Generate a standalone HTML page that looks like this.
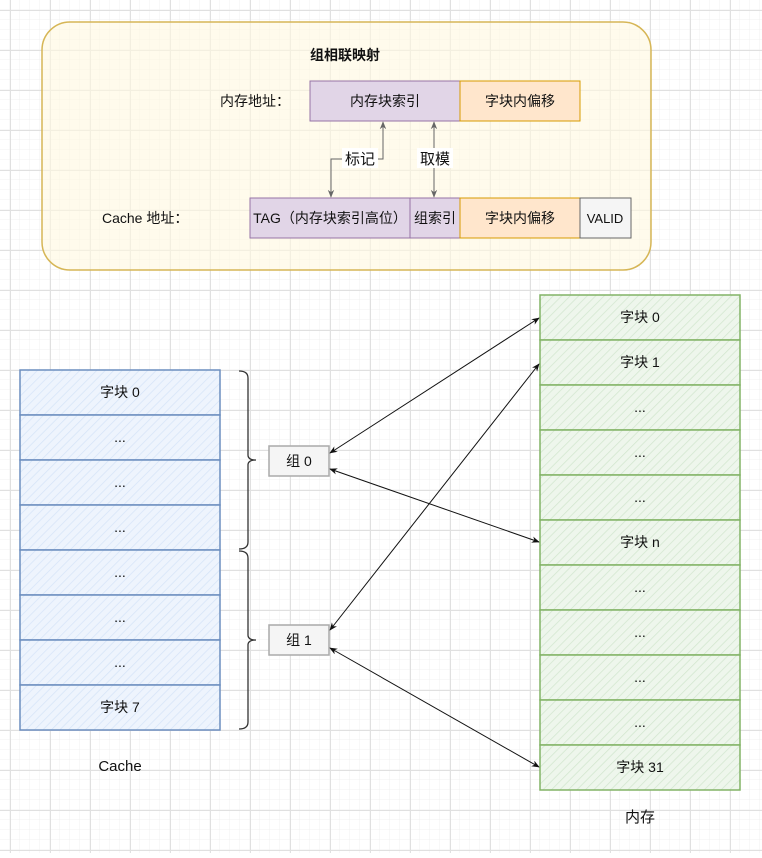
<!DOCTYPE html>
<html><head><meta charset="utf-8"><style>
html,body{margin:0;padding:0;background:#fff}
text{font-family:"Liberation Sans","Noto Sans CJK SC",sans-serif;font-size:14px;fill:#111}
</style></head><body>
<svg width="762" height="853" viewBox="0 0 762 853" xmlns="http://www.w3.org/2000/svg">
<defs>
<pattern id="g" width="10" height="10" patternUnits="userSpaceOnUse"><path d="M10 0V10M0 10H10" stroke="#f0f0f0" stroke-width="1" fill="none"/></pattern>
<pattern id="G" x="10" y="10" width="40" height="40" patternUnits="userSpaceOnUse"><rect width="40" height="40" fill="url(#g)"/><path d="M0.5 0V40M0 0.5H40" stroke="#e0e0e0" fill="none"/></pattern>
<pattern id="hb" width="6" height="6" patternUnits="userSpaceOnUse" patternTransform="rotate(45)"><rect width="6" height="6" fill="#eef4fd"/><path d="M0 0V6" stroke="#d6e4f8" stroke-width="1.5"/></pattern>
<pattern id="hg" width="6" height="6" patternUnits="userSpaceOnUse" patternTransform="rotate(45)"><rect width="6" height="6" fill="#eef6ec"/><path d="M0 0V6" stroke="#d2e6cf" stroke-width="1.5"/></pattern>
<marker id="a" viewBox="0 0 10 10" refX="9" refY="5" markerWidth="8" markerHeight="8" orient="auto-start-reverse"><path d="M0 1L10 5L0 9L3 5Z" fill="#111"/></marker>
<marker id="ag" viewBox="0 0 10 10" refX="9" refY="5" markerWidth="8" markerHeight="8" orient="auto-start-reverse"><path d="M0 1L10 5L0 9L3 5Z" fill="#666"/></marker>
</defs>
<rect width="762" height="853" fill="url(#G)"/>
<rect x="42" y="22" width="609" height="248" rx="28" fill="#fff8e0" fill-opacity="0.6" stroke="#d6b656" stroke-width="1.5"/>
<text x="345" y="60" text-anchor="middle" style="font-weight:bold;font-size:14px">组相联映射</text>
<text x="290" y="106" text-anchor="end">内存地址：</text>
<rect x="310" y="81" width="150" height="40" fill="#e1d5e7" stroke="#9673a6"/>
<text x="385" y="106" text-anchor="middle">内存块索引</text>
<rect x="460" y="81" width="120" height="40" fill="#ffe6cc" stroke="#d79b00"/>
<text x="520" y="106" text-anchor="middle">字块内偏移</text>
<text x="102" y="223">Cache 地址：</text>
<rect x="250" y="198" width="160" height="40" fill="#e1d5e7" stroke="#9673a6"/>
<text x="330" y="223" text-anchor="middle">TAG（内存块索引高位）</text>
<rect x="410" y="198" width="50" height="40" fill="#e1d5e7" stroke="#9673a6"/>
<text x="435" y="223" text-anchor="middle">组索引</text>
<rect x="460" y="198" width="120" height="40" fill="#ffe6cc" stroke="#d79b00"/>
<text x="520" y="223" text-anchor="middle">字块内偏移</text>
<rect x="580" y="198" width="51" height="40" fill="#f5f5f5" stroke="#666"/>
<text x="605" y="223" text-anchor="middle" style="font-size:13px">VALID</text>
<path d="M331 197V159H383V122" fill="none" stroke="#666" marker-start="url(#ag)" marker-end="url(#ag)"/>
<rect x="342" y="148" width="36" height="20" fill="#fff"/>
<text x="360" y="164" text-anchor="middle" style="font-size:15px">标记</text>
<path d="M434 197V122" fill="none" stroke="#666" marker-start="url(#ag)" marker-end="url(#ag)"/>
<rect x="417" y="148" width="36" height="20" fill="#fff"/>
<text x="435" y="164" text-anchor="middle" style="font-size:15px">取模</text>
<g stroke="#6c8ebf" stroke-width="1.5" fill="url(#hb)">
<rect x="20" y="370" width="200" height="45"/><rect x="20" y="415" width="200" height="45"/><rect x="20" y="460" width="200" height="45"/><rect x="20" y="505" width="200" height="45"/>
<rect x="20" y="550" width="200" height="45"/><rect x="20" y="595" width="200" height="45"/><rect x="20" y="640" width="200" height="45"/><rect x="20" y="685" width="200" height="45"/>
</g>
<g text-anchor="middle">
<text x="120" y="397">字块 0</text><text x="120" y="442">...</text><text x="120" y="487">...</text><text x="120" y="532">...</text>
<text x="120" y="577">...</text><text x="120" y="622">...</text><text x="120" y="667">...</text><text x="120" y="712">字块 7</text>
<text x="120" y="771" style="font-size:15px">Cache</text>
<text x="640" y="822" style="font-size:15px">内存</text>
</g>
<path d="M239 371Q248 371 248 378V455Q248 460 256 460Q248 460 248 465V542Q248 549 239 549M239 551Q248 551 248 558V635Q248 640 256 640Q248 640 248 645V722Q248 729 239 729" fill="none" stroke="#333" stroke-width="1.3"/>
<rect x="269" y="446" width="60" height="30" fill="#f5f5f5" stroke="#aaa" stroke-width="1.5"/>
<text x="299" y="466" text-anchor="middle">组 0</text>
<rect x="269" y="625" width="60" height="30" fill="#f5f5f5" stroke="#aaa" stroke-width="1.5"/>
<text x="299" y="645" text-anchor="middle">组 1</text>
<g stroke="#82b366" stroke-width="1.5" fill="url(#hg)">
<rect x="540" y="295" width="200" height="45"/><rect x="540" y="340" width="200" height="45"/><rect x="540" y="385" width="200" height="45"/><rect x="540" y="430" width="200" height="45"/>
<rect x="540" y="475" width="200" height="45"/><rect x="540" y="520" width="200" height="45"/><rect x="540" y="565" width="200" height="45"/><rect x="540" y="610" width="200" height="45"/>
<rect x="540" y="655" width="200" height="45"/><rect x="540" y="700" width="200" height="45"/><rect x="540" y="745" width="200" height="45"/>
</g>
<g text-anchor="middle">
<text x="640" y="322">字块 0</text><text x="640" y="367">字块 1</text><text x="640" y="412">...</text><text x="640" y="457">...</text>
<text x="640" y="502">...</text><text x="640" y="547">字块 n</text><text x="640" y="592">...</text><text x="640" y="637">...</text>
<text x="640" y="682">...</text><text x="640" y="727">...</text><text x="640" y="772">字块 31</text>
</g>
<g stroke="#111" stroke-width="1" fill="none">
<line x1="330" y1="453" x2="539" y2="318" marker-start="url(#a)" marker-end="url(#a)"/>
<line x1="330" y1="469" x2="539" y2="542" marker-start="url(#a)" marker-end="url(#a)"/>
<line x1="330" y1="630" x2="539" y2="364" marker-start="url(#a)" marker-end="url(#a)"/>
<line x1="330" y1="648" x2="539" y2="767" marker-start="url(#a)" marker-end="url(#a)"/>
</g>
</svg>
</body></html>
